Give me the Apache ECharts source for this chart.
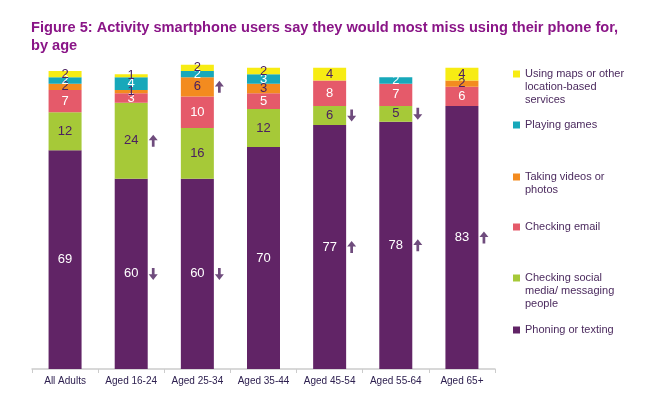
<!DOCTYPE html>
<html><head><meta charset="utf-8">
<script src="https://cdn.jsdelivr.net/npm/echarts@6/dist/echarts.min.js"></script>
<style>html,body{margin:0;padding:0;background:#fff}#c{width:647px;height:394px}</style>
</head><body><div id="c"></div>
<script>
// ---- data ----
const categories = ['All Adults', 'Aged 16-24', 'Aged 25-34', 'Aged 35-44', 'Aged 45-54', 'Aged 55-64', 'Aged 65+'];
const phoning = [69, 60, 60, 70, 77, 78, 83];
const social  = [12, 24, 16, 12, 6, 5, 0];
const email   = [7, 3, 10, 5, 8, 7, 6];
const videos  = [2, 1, 6, 3, 0, 0, 2];
const games   = [2, 4, 2, 3, 0, 2, 0];
const maps    = [2, 1, 2, 2, 4, 0, 4];
// significance arrows: 1 = up, -1 = down, 0 = none
const phoningSig = [0, -1, -1, 0, 1, 1, 1];
const socialSig  = [0, 1, 0, 0, -1, -1, 0];
const videosSig  = [0, 0, 1, 0, 0, 0, 0];
const seriesNames = [
  'Phoning or texting',
  'Checking social\nmedia/ messaging\npeople',
  'Checking email',
  'Taking videos or\nphotos',
  'Playing games',
  'Using maps or other\nlocation-based\nservices'
];
const titleText = 'Figure 5: Activity smartphone users say they would most miss using their phone for,\nby age';

// ---- styling ----
const colors = ['#612466', '#a6c938', '#e55a6a', '#f38b1f', '#17a8ba', '#f7ec13'];
const labelColors = ['#ffffff', '#4b2060', '#ffffff', '#4b2060', '#ffffff', '#4b2060'];
const valueSets = [phoning, social, email, videos, games, maps];
const sigSets = [phoningSig, socialSig, null, videosSig, null, null];

const UP = 'path://M5,0 L10,6 L6.5,6 L6.5,13 L3.5,13 L3.5,6 L0,6 Z';
const DOWN = 'path://M5,13 L10,7 L6.5,7 L6.5,0 L3.5,0 L3.5,7 L0,7 Z';

const series = valueSets.map((vals, i) => ({
  name: seriesNames[i],
  type: 'bar',
  stack: 'total',
  barWidth: 33,
  data: vals,
  itemStyle: { color: colors[i] },
  label: {
    show: true,
    position: 'inside',
    color: labelColors[i],
    fontSize: 13,
    fontFamily: 'Liberation Sans, Arial, sans-serif',
    formatter: p => (p.value === 0 ? '' : String(p.value))
  },
  emphasis: { disabled: true }
}));

// arrows placed at segment midpoints computed from the data
const arrowData = [];
sigSets.forEach((sig, si) => {
  if (!sig) return;
  sig.forEach((s, ci) => {
    if (!s) return;
    let base = 0;
    for (let k = 0; k < si; k++) base += valueSets[k][ci];
    const mid = base + valueSets[si][ci] / 2;
    arrowData.push({ value: [ci, mid], symbol: s > 0 ? UP : DOWN });
  });
});
series.push({
  type: 'scatter',
  data: arrowData,
  symbolSize: [9, 12],
  symbolOffset: [22, 0],
  itemStyle: { color: '#4b1f5c' },
  silent: true,
  z: 5
});

// legends (one per item, top-to-bottom order as in the reference)
const legendOrder = [5, 4, 3, 2, 1, 0];
const legendCenters = [74, 125, 177, 227, 278, 330];
const LH = 13;
const legends = legendOrder.map((si, j) => {
  const lines = seriesNames[si].split('\n').length;
  const blockH = (2 * lines - 1) * LH;
  return {
    data: [seriesNames[si]],
    left: 513,
    top: legendCenters[j] - blockH / 2,
    orient: 'vertical',
    padding: 0,
    itemWidth: 7,
    itemHeight: 7,
    icon: 'rect',
    selectedMode: false,
    // leading blank lines so the icon sits level with the first text line
    formatter: name => '\n'.repeat(lines - 1) + name,
    textStyle: {
      fontSize: 11,
      lineHeight: LH,
      color: '#4b2a5e',
      fontFamily: 'Liberation Sans, Arial, sans-serif'
    }
  };
});

const chart = echarts.init(document.getElementById('c'), null, { renderer: 'canvas' });
chart.setOption({
  animation: false,
  color: colors,
  title: {
    text: titleText,
    left: 31,
    top: 19,
    padding: 0,
    textStyle: {
      fontSize: 14.6,
      lineHeight: 18,
      fontWeight: 'bold',
      color: '#8a1587',
      fontFamily: 'Liberation Sans, Arial, sans-serif'
    }
  },
  legend: legends,
  grid: { left: 32, right: 152, top: 52, bottom: 25, containLabel: false },
  xAxis: {
    type: 'category',
    data: categories,
    axisLine: { lineStyle: { color: '#cccccc', width: 1.5 } },
    axisTick: { show: true, length: 4, lineStyle: { color: '#cccccc' } },
    axisLabel: {
      interval: 0,
      fontSize: 10,
      color: '#2e2050',
      margin: 7,
      fontFamily: 'Liberation Sans, Arial, sans-serif'
    }
  },
  yAxis: {
    type: 'value',
    min: 0,
    max: 100,
    show: false,
    splitLine: { show: false }
  },
  series: series
});
</script>
</body></html>
